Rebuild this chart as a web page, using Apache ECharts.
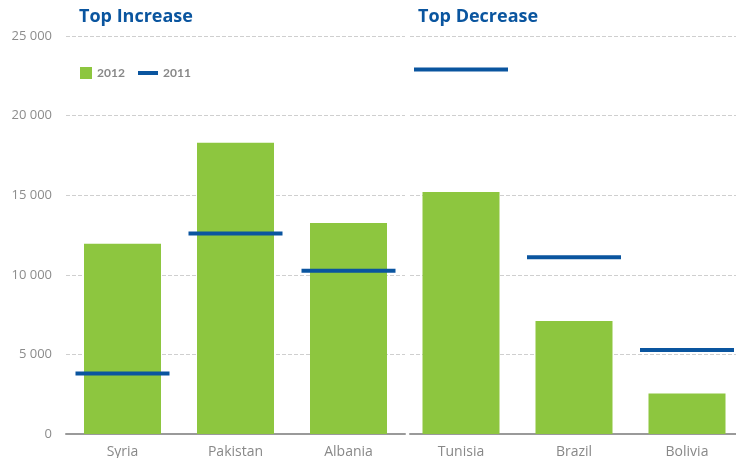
<!DOCTYPE html>
<html><head><meta charset="utf-8">
<script src="https://cdn.jsdelivr.net/npm/echarts@6/dist/echarts.min.js"></script>
<style>html,body{margin:0;padding:0;background:#fff}#c{width:736px;height:458px}</style>
</head><body><div id="c"></div>
<script>
var incCategories = ['Syria', 'Pakistan', 'Albania'];
var decCategories = ['Tunisia', 'Brazil', 'Bolivia'];
var inc2012 = [11950, 18300, 13250];
var inc2011 = [3800, 12600, 10250];
var dec2012 = [15200, 7100, 2550];
var dec2011 = [22900, 11100, 5280];
var yTicks = [0, 5000, 10000, 15000, 20000, 25000];

var GREEN = '#8dc63f', BLUE = '#0a559f';
var chart = echarts.init(document.getElementById('c'));
function fmt(v){ return v === 0 ? '0' : String(v).replace(/\B(?=(\d{3})+(?!\d))/g, ' '); }
var xLabel = { color:'#888', fontSize:14, fontFamily:'Open Sans', margin:11 };
var xLine = { lineStyle:{ color:'#9a9a9a', width:2 } };
function yAx(idx, showLabel){
  return { type:'value', gridIndex: idx, min: yTicks[0], max: yTicks[yTicks.length-1], interval: 5000,
    axisLine:{ show:false }, axisTick:{ show:false },
    axisLabel:{ show: showLabel, color:'#8c8c8c', fontSize:13, fontFamily:'Open Sans', margin:14, formatter: fmt },
    splitLine:{ lineStyle:{ color:'#cfcfcf', type:[4,2], width:1 } } };
}
// right panel: same category spacing as left (113px), but the panel runs off the canvas edge
var rightLeft = 410, step = 113, firstCenter = 461;
var rMin = (rightLeft - firstCenter) / step;
var rMax = rMin + (736 - rightLeft) / step;
chart.setOption({
  animation:false,
  title:[
    { text:'Top Increase', left:74, top:3, textStyle:{ color:'#0a559f', fontSize:18, fontWeight:'bold', fontFamily:'Open Sans' } },
    { text:'Top Decrease', left:413, top:3, textStyle:{ color:'#0a559f', fontSize:18, fontWeight:'bold', fontFamily:'Open Sans' } }
  ],
  legend:[
    { data:['2012'], left:75, top:62, icon:'rect', itemWidth:12, itemHeight:12, itemGap:6,
      textStyle:{ color:'#888', fontSize:12, fontWeight:'bold', fontFamily:'Lato' } },
    { data:['2011'], left:133, top:62, icon:'rect', itemWidth:20, itemHeight:4,
      textStyle:{ color:'#888', fontSize:12, fontWeight:'bold', fontFamily:'Lato' } }
  ],
  grid:[
    { left:66, top:36, width:339, height:398, outerBoundsMode:'none', containLabel:false },
    { left:rightLeft, top:36, width:736 - rightLeft, height:398, outerBoundsMode:'none', containLabel:false }
  ],
  xAxis:[
    { type:'category', gridIndex:0, data:incCategories, axisLine:xLine, axisTick:{ show:false }, axisLabel:xLabel },
    { type:'value', gridIndex:1, min:rMin, max:rMax, axisLine:xLine, axisTick:{ show:false }, splitLine:{ show:false },
      axisLabel:Object.assign({}, xLabel, { showMinLabel:false, showMaxLabel:false,
        formatter:function(v){ return (Math.abs(v - Math.round(v)) < 1e-6 && decCategories[Math.round(v)]) ? decCategories[Math.round(v)] : ''; } }) }
  ],
  yAxis:[ yAx(0,true), yAx(1,false) ],
  series:[
    { name:'2012', type:'bar', xAxisIndex:0, yAxisIndex:0, data:inc2012, barWidth:77, itemStyle:{ color:GREEN } },
    { name:'2012', type:'bar', xAxisIndex:1, yAxisIndex:1, data:dec2012.map(function(v,i){ return [i, v]; }), barWidth:77, itemStyle:{ color:GREEN } },
    { name:'2011', type:'scatter', xAxisIndex:0, yAxisIndex:0, data:inc2011, symbol:'rect', symbolSize:[94,4], itemStyle:{ color:BLUE, opacity:1 }, z:5 },
    { name:'2011', type:'scatter', xAxisIndex:1, yAxisIndex:1, data:dec2011.map(function(v,i){ return [i, v]; }), symbol:'rect', symbolSize:[94,4], itemStyle:{ color:BLUE, opacity:1 }, z:5 }
  ]
});
</script></body></html>
